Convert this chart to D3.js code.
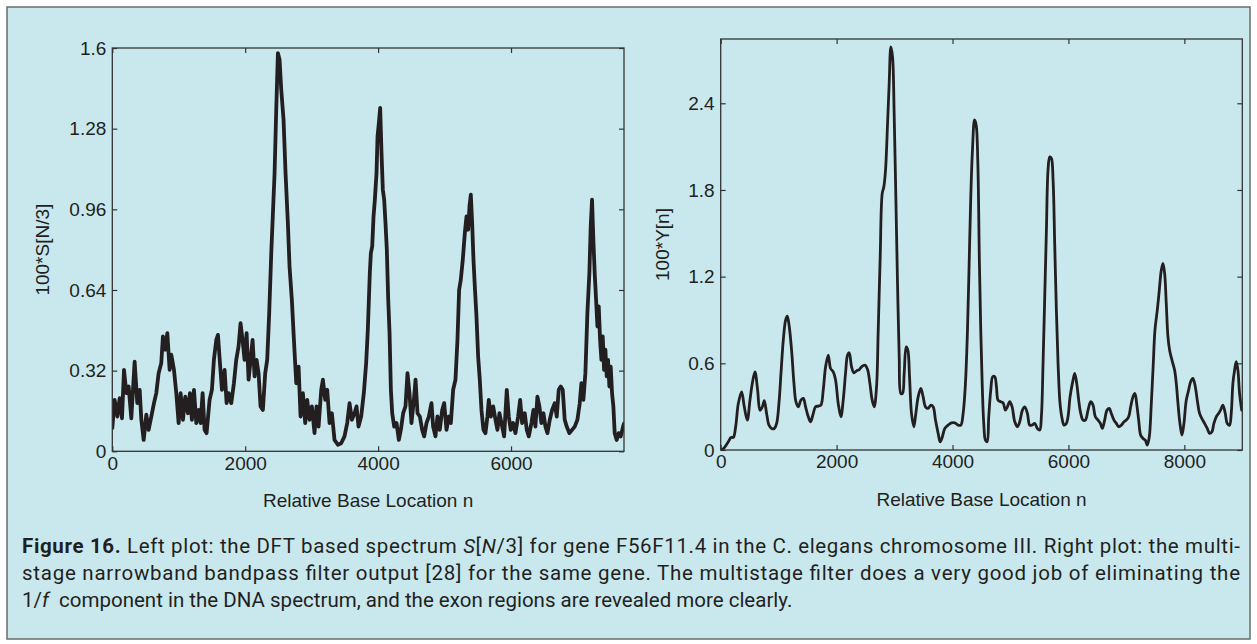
<!DOCTYPE html>
<html><head><meta charset="utf-8">
<script src="https://cdn.jsdelivr.net/npm/d3@7"></script>
<style>body{margin:0;background:#fff}svg{display:block}</style>
</head><body>
<svg id="c" width="1257" height="644"></svg>
<script>
// ---------- data: left plot (DFT spectrum S[N/3]) ----------
const leftN = [0,35,76,111,146,176,211,246,286,336,376,412,437,472,512,547,587,627,662,697,737,762,798,828,863,888,928,963,998,1028,1063,1098,1138,1168,1198,1229,1264,1299,1329,1359,1389,1419,1464,1499,1529,1565,1590,1620,1650,1690,1720,1750,1790,1830,1865,1900,1930,1960,1990,2021,2051,2081,2111,2141,2171,2201,2231,2266,2301,2331,2361,2392,2417,2442,2467,2492,2517,2542,2577,2607,2642,2667,2702,2733,2768,2803,2833,2868,2903,2933,2968,3003,3043,3073,3104,3144,3169,3204,3234,3269,3304,3344,3394,3444,3494,3535,3570,3605,3645,3675,3705,3745,3785,3820,3845,3875,3891,3911,3931,3951,3976,3991,4011,4031,4051,4071,4091,4111,4131,4152,4172,4192,4212,4242,4277,4312,4342,4377,4412,4442,4472,4502,4538,4563,4593,4628,4663,4693,4728,4763,4803,4828,4863,4893,4928,4964,4994,5029,5064,5094,5129,5164,5194,5219,5244,5274,5305,5330,5355,5375,5395,5415,5435,5455,5480,5505,5530,5555,5585,5615,5645,5665,5696,5731,5766,5796,5826,5856,5896,5936,5966,5996,6031,6066,6107,6137,6167,6207,6237,6267,6307,6337,6367,6397,6427,6457,6488,6518,6548,6583,6618,6658,6688,6718,6748,6778,6808,6838,6879,6919,6959,6999,7034,7059,7089,7119,7149,7179,7199,7219,7239,7259,7280,7300,7320,7340,7360,7380,7400,7420,7440,7460,7480,7500,7520,7540,7560,7590,7620,7651,7686,7700];
const leftS = [0.092,0.204,0.138,0.211,0.131,0.323,0.231,0.257,0.131,0.356,0.191,0.244,0.125,0.045,0.145,0.085,0.138,0.191,0.231,0.310,0.350,0.456,0.403,0.469,0.323,0.383,0.323,0.231,0.112,0.231,0.125,0.217,0.151,0.231,0.125,0.244,0.112,0.164,0.112,0.231,0.085,0.072,0.204,0.244,0.363,0.442,0.462,0.350,0.244,0.323,0.191,0.231,0.191,0.270,0.363,0.416,0.508,0.442,0.363,0.469,0.284,0.363,0.442,0.297,0.363,0.310,0.178,0.164,0.310,0.363,0.548,0.786,0.945,1.104,1.355,1.580,1.554,1.435,1.315,1.104,0.905,0.733,0.601,0.442,0.270,0.336,0.138,0.231,0.112,0.204,0.125,0.178,0.072,0.178,0.098,0.244,0.284,0.204,0.244,0.112,0.151,0.045,0.026,0.032,0.059,0.112,0.191,0.125,0.151,0.178,0.098,0.138,0.231,0.350,0.482,0.707,0.786,0.813,0.932,0.998,1.104,1.249,1.302,1.362,1.183,1.038,0.998,0.905,0.800,0.601,0.469,0.244,0.151,0.098,0.112,0.045,0.085,0.151,0.178,0.310,0.231,0.112,0.204,0.284,0.151,0.138,0.085,0.059,0.112,0.138,0.191,0.098,0.059,0.138,0.085,0.164,0.191,0.085,0.138,0.112,0.244,0.284,0.442,0.641,0.680,0.760,0.866,0.932,0.879,0.972,1.018,0.905,0.760,0.654,0.535,0.376,0.284,0.164,0.085,0.072,0.138,0.204,0.138,0.178,0.125,0.085,0.151,0.112,0.059,0.244,0.138,0.085,0.112,0.072,0.138,0.204,0.112,0.151,0.085,0.059,0.112,0.164,0.098,0.217,0.178,0.112,0.151,0.098,0.072,0.125,0.164,0.191,0.138,0.244,0.257,0.244,0.125,0.098,0.072,0.085,0.098,0.125,0.191,0.270,0.204,0.310,0.548,0.707,0.892,0.998,0.839,0.707,0.601,0.495,0.575,0.442,0.363,0.456,0.323,0.403,0.297,0.363,0.257,0.336,0.231,0.178,0.072,0.045,0.072,0.059,0.098,0.110];
const leftXTicks = [0,2000,4000,6000];
const leftYTicks = [0,0.32,0.64,0.96,1.28,1.6];

// ---------- data: right plot (multistage filter output Y[n]) ----------
const rightN = [0,17,74,131,178,218,258,304,361,407,459,505,545,591,637,677,718,752,792,833,879,925,965,1005,1040,1080,1120,1149,1183,1223,1264,1298,1338,1384,1425,1465,1511,1551,1597,1637,1683,1729,1769,1810,1856,1896,1942,1982,2028,2074,2114,2154,2189,2218,2258,2298,2344,2390,2430,2488,2534,2574,2614,2649,2689,2718,2752,2787,2815,2844,2879,2907,2936,2965,2993,3022,3051,3080,3109,3137,3166,3200,3229,3258,3292,3332,3367,3407,3453,3493,3534,3580,3626,3666,3706,3752,3787,3821,3867,3924,3982,4040,4097,4143,4183,4223,4258,4287,4315,4344,4380,4408,4436,4464,4487,4510,4539,4568,4597,4625,4660,4694,4729,4758,4786,4832,4872,4913,4947,4987,5028,5074,5120,5160,5206,5246,5292,5332,5372,5418,5464,5505,5533,5562,5591,5620,5648,5677,5706,5735,5763,5792,5821,5855,5890,5924,5964,5993,6028,6068,6108,6143,6177,6212,6252,6292,6338,6384,6424,6464,6510,6551,6585,6625,6666,6706,6740,6786,6826,6867,6913,6959,6999,7039,7074,7114,7148,7177,7212,7246,7286,7326,7361,7395,7430,7464,7493,7533,7568,7602,7631,7660,7688,7717,7746,7786,7832,7861,7890,7924,7959,7993,8033,8074,8108,8148,8189,8223,8263,8303,8349,8395,8436,8476,8510,8551,8591,8625,8665,8706,8740,8780,8809,8838,8867,8895,8924,8953,8990];
const rightY = [0,0,0.022,0.057,0.087,0.087,0.161,0.322,0.403,0.299,0.207,0.345,0.461,0.541,0.414,0.276,0.299,0.341,0.253,0.172,0.149,0.149,0.184,0.322,0.530,0.761,0.899,0.927,0.853,0.691,0.461,0.334,0.299,0.345,0.357,0.299,0.230,0.195,0.253,0.299,0.304,0.311,0.414,0.576,0.657,0.564,0.541,0.484,0.322,0.230,0.345,0.530,0.657,0.673,0.576,0.534,0.548,0.557,0.576,0.588,0.557,0.461,0.345,0.299,0.438,0.830,1.337,1.776,1.822,1.937,2.260,2.537,2.791,2.721,2.329,1.753,1.153,0.645,0.391,0.391,0.530,0.714,0.691,0.507,0.253,0.161,0.253,0.368,0.426,0.368,0.299,0.288,0.311,0.299,0.207,0.115,0.057,0.087,0.149,0.172,0.188,0.188,0.172,0.172,0.253,0.461,0.830,1.291,1.753,2.075,2.285,2.250,2.000,1.291,0.830,0.484,0.184,0.068,0.057,0.230,0.414,0.507,0.507,0.438,0.345,0.334,0.327,0.276,0.299,0.334,0.299,0.195,0.161,0.195,0.276,0.299,0.253,0.172,0.172,0.184,0.149,0.138,0.230,0.599,1.060,1.522,1.937,2.029,2.018,1.868,1.430,0.968,0.599,0.322,0.218,0.172,0.184,0.230,0.368,0.461,0.530,0.461,0.345,0.253,0.207,0.207,0.276,0.334,0.311,0.230,0.207,0.184,0.149,0.207,0.276,0.288,0.253,0.207,0.184,0.161,0.172,0.195,0.207,0.230,0.299,0.368,0.391,0.322,0.207,0.103,0.080,0.068,0.034,0.091,0.322,0.599,0.830,0.968,1.107,1.245,1.291,1.222,1.014,0.784,0.691,0.622,0.553,0.461,0.322,0.184,0.103,0.184,0.345,0.414,0.472,0.495,0.438,0.345,0.253,0.218,0.184,0.149,0.115,0.126,0.184,0.230,0.253,0.276,0.311,0.253,0.184,0.172,0.253,0.461,0.553,0.611,0.553,0.391,0.276];
const rightXTicks = [0,2000,4000,6000,8000];
const rightYTicks = [0,0.6,1.2,1.8,2.4];

const xLabel = "Relative Base Location n";
const leftYLabel = "100*S[N/3]";
const rightYLabel = "100*Y[n]";

// ---------- drawing ----------
const svg = d3.select("#c");
const ink = "#231f20";
const axisFont = "'Liberation Sans', Arial, sans-serif";

svg.append("rect").attr("x",7).attr("y",7).attr("width",1243).attr("height",632)
  .attr("fill","#c8e8ee").attr("stroke","#6b6b6b").attr("stroke-width",1.5);

function panel(cfg){
  const {x0,x1,y0,y1,xMax,yMax,xTicks,yTicks,n,v,curve,lw,ylab,ylabX} = cfg;
  const x = d3.scaleLinear().domain([0,xMax]).range([x0,x1]);
  const y = d3.scaleLinear().domain([0,yMax]).range([y1,y0]);
  const g = svg.append("g");
  const styleAxis = sel => {
    sel.select(".domain").remove();
    sel.selectAll(".tick line").attr("stroke","#333").attr("stroke-width",1.2);
    sel.selectAll("text").attr("fill",ink).style("font-family",axisFont).style("font-size","19px");
  };
  g.append("g").attr("transform",`translate(0,${y1})`)
    .call(d3.axisBottom(x).tickValues(xTicks).tickSize(-5).tickPadding(5).tickFormat(d=>String(d)))
    .call(styleAxis);
  g.append("g").attr("transform",`translate(0,${y0})`)
    .call(d3.axisTop(x).tickValues(xTicks).tickSize(-5).tickFormat(""))
    .call(styleAxis);
  g.append("g").attr("transform",`translate(${x0},0)`)
    .call(d3.axisLeft(y).tickValues(yTicks).tickSize(-5).tickPadding(6).tickFormat(d=>String(d)))
    .call(styleAxis);
  g.append("g").attr("transform",`translate(${x1},0)`)
    .call(d3.axisRight(y).tickValues(yTicks).tickSize(-5).tickFormat(""))
    .call(styleAxis);
  g.append("defs").append("clipPath").attr("id","clip"+Math.round(x0))
    .append("rect").attr("x",x0).attr("y",y0-20).attr("width",x1-x0).attr("height",y1-y0+20);
  const line = d3.line().x((d,i)=>x(n[i])).y((d,i)=>y(v[i])).curve(curve);
  g.append("path").attr("d",line(n)).attr("fill","none").attr("stroke",ink)
    .attr("stroke-width",lw).attr("stroke-linejoin","round").attr("stroke-linecap","round")
    .attr("clip-path",`url(#clip${Math.round(x0)})`);
  g.append("rect").attr("x",x0).attr("y",y0).attr("width",x1-x0).attr("height",y1-y0)
    .attr("fill","none").attr("stroke","#333").attr("stroke-width",1.3);
  g.append("text").attr("x",(x0+x1)/2).attr("y",y1+56).attr("text-anchor","middle")
    .attr("fill",ink).style("font-family",axisFont).style("font-size","19px").text(xLabel);
  g.append("text").attr("transform",`translate(${ylabX},${(y0+y1)/2}) rotate(-90)`)
    .attr("text-anchor","middle").attr("fill",ink)
    .style("font-family",axisFont).style("font-size","19px").text(ylab);
}

panel({x0:112.3,x1:624,y0:48,y1:451.3,xMax:7700,yMax:1.6,xTicks:leftXTicks,yTicks:leftYTicks,
  n:leftN,v:leftS,curve:d3.curveLinear,lw:3.8,ylab:leftYLabel,ylabX:49});
panel({x0:720.7,x1:1242.3,y0:39,y1:450,xMax:9000,yMax:2.845,xTicks:rightXTicks,yTicks:rightYTicks,
  n:rightN,v:rightY,curve:d3.curveCatmullRom,lw:2.8,ylab:rightYLabel,ylabX:669});

// ---------- caption ----------
const cap = svg.append("g").attr("fill",ink)
  .style("font-family","Roboto, 'Open Sans', sans-serif").style("font-size","20.5px");
function capLine(y, parts, len){
  const t = cap.append("text").attr("x",22).attr("y",y).style("white-space","pre");
  if(len) t.attr("textLength",len).attr("lengthAdjust","spacing");
  parts.forEach(p=>{
    const s = t.append("tspan").text(p[0]);
    if(p[1]==="b") s.style("font-weight","bold");
    if(p[1]==="i") s.style("font-style","italic");
  });
}
capLine(553,[["Figure 16.","b"],[" Left plot: the DFT based spectrum "],["S","i"],["["],["N","i"],["/3] for gene F56F11.4 in the C. elegans chromosome III. Right plot: the multi-"]],1218);
capLine(580,[["stage narrowband bandpass filter output [28] for the same gene. The multistage filter does a very good job of eliminating the"]],1218);
capLine(607,[["1/"],["f","i"],["  component in the DNA spectrum, and the exon regions are revealed more clearly."]],null);
</script>
</body></html>
